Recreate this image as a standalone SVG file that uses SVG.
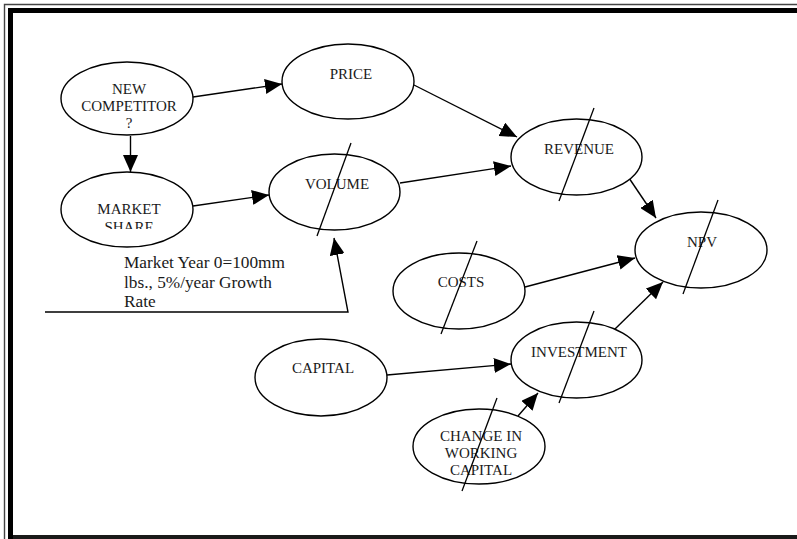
<svg xmlns="http://www.w3.org/2000/svg" width="797" height="539" viewBox="0 0 797 539">
  <style>
    .node ellipse { fill: #ffffff; stroke: #000000; stroke-width: 1.4; }
    .slash { stroke: #000000; stroke-width: 1.3; fill: none; }
    .label { font-family: "Liberation Serif", "Times New Roman", serif; font-size: 15px; fill: #1a1a1a; text-anchor: middle; }
    .note { font-family: "Liberation Serif", "Times New Roman", serif; font-size: 17.3px; fill: #1a1a1a; }
    .edge { stroke: #000000; stroke-width: 1.4; fill: none; marker-end: url(#arrow); }
  </style>
  <defs>
    <marker id="arrow" markerUnits="userSpaceOnUse" markerWidth="17" markerHeight="15" refX="17" refY="7.5" orient="auto">
      <path d="M0,0 L17,7.5 L0,15 Z" fill="#000000"/>
    </marker>
    <clipPath id="shareClip">
      <rect x="60" y="190" width="140" height="39"/>
    </clipPath>
  </defs>

  <rect width="797" height="539" fill="#ffffff"/>

  <!-- page border: thin outer rule with thick inner rule -->
  <g id="border">
    <path d="M4.5,539 V4.5 H797" fill="none" stroke="#444444" stroke-width="1.4"/>
    <path d="M10.5,539 V10.5 H797" fill="none" stroke="#000000" stroke-width="5"/>
    <rect x="13" y="535" width="784" height="4" fill="#1a1a1a"/>
  </g>

  <!-- connectors -->
  <g id="connectors">
    <line class="edge" x1="193" y1="97" x2="282" y2="84"/>
    <line class="edge" x1="130.5" y1="136" x2="130.5" y2="172"/>
    <line class="edge" x1="193" y1="206" x2="269" y2="195"/>
    <line class="edge" x1="414" y1="85" x2="517" y2="137"/>
    <line class="edge" x1="400" y1="183" x2="511" y2="166"/>
    <line class="edge" x1="629" y1="178" x2="656" y2="218"/>
    <line class="edge" x1="525" y1="287" x2="635" y2="258"/>
    <line class="edge" x1="615" y1="329" x2="663" y2="282"/>
    <line class="edge" x1="387" y1="375" x2="511" y2="364"/>
    <line class="edge" x1="518" y1="416" x2="538" y2="393"/>
    <polyline class="edge" points="45,312 348,312 334,238"/>
  </g>

  <g id="new-competitor" class="node">
    <ellipse cx="127" cy="98.5" rx="66" ry="36.5"/>
    <text class="label" x="129" y="94">NEW</text>
    <text class="label" x="129" y="111">COMPETITOR</text>
    <text class="label" x="129" y="128">?</text>
  </g>

  <g id="price" class="node">
    <ellipse cx="348" cy="81.5" rx="66" ry="37.5"/>
    <text class="label" x="351" y="79">PRICE</text>
  </g>

  <g id="market-share" class="node">
    <ellipse cx="127" cy="209.5" rx="66" ry="37.5"/>
    <text class="label" x="129" y="214">MARKET</text>
    <text class="label" x="129" y="232" clip-path="url(#shareClip)">SHARE</text>
  </g>

  <g id="volume" class="node">
    <ellipse cx="334.5" cy="192" rx="65.5" ry="38"/>
    <text class="label" x="337" y="189">VOLUME</text>
    <line class="slash" x1="351" y1="143" x2="317" y2="236"/>
  </g>

  <g id="revenue" class="node">
    <ellipse cx="576.5" cy="157" rx="65.5" ry="38"/>
    <text class="label" x="579" y="154">REVENUE</text>
    <line class="slash" x1="594" y1="108" x2="559" y2="201"/>
  </g>

  <g id="npv" class="node">
    <ellipse cx="701" cy="250" rx="66" ry="38"/>
    <text class="label" x="702" y="247">NPV</text>
    <line class="slash" x1="718" y1="200" x2="683" y2="294"/>
  </g>

  <g id="costs" class="node">
    <ellipse cx="459" cy="291" rx="66" ry="38"/>
    <text class="label" x="461" y="287">COSTS</text>
    <line class="slash" x1="477" y1="241" x2="441" y2="334"/>
  </g>

  <g id="investment" class="node">
    <ellipse cx="576.5" cy="360" rx="65.5" ry="38"/>
    <text class="label" x="579" y="357">INVESTMENT</text>
    <line class="slash" x1="594" y1="311" x2="559" y2="403"/>
  </g>

  <g id="capital" class="node">
    <ellipse cx="321" cy="377.5" rx="66" ry="38.5"/>
    <text class="label" x="323" y="373">CAPITAL</text>
  </g>

  <g id="change-in-working-capital" class="node">
    <ellipse cx="479" cy="446.5" rx="66" ry="37.5"/>
    <text class="label" x="481" y="441">CHANGE IN</text>
    <text class="label" x="481" y="458">WORKING</text>
    <text class="label" x="481" y="475">CAPITAL</text>
    <line class="slash" x1="497" y1="398" x2="462" y2="491"/>
  </g>

  <g id="market-note">
    <text class="note" x="124" y="268">Market Year 0=100mm</text>
    <text class="note" x="124" y="288">lbs., 5%/year Growth</text>
    <text class="note" x="124" y="307">Rate</text>
  </g>
</svg>
